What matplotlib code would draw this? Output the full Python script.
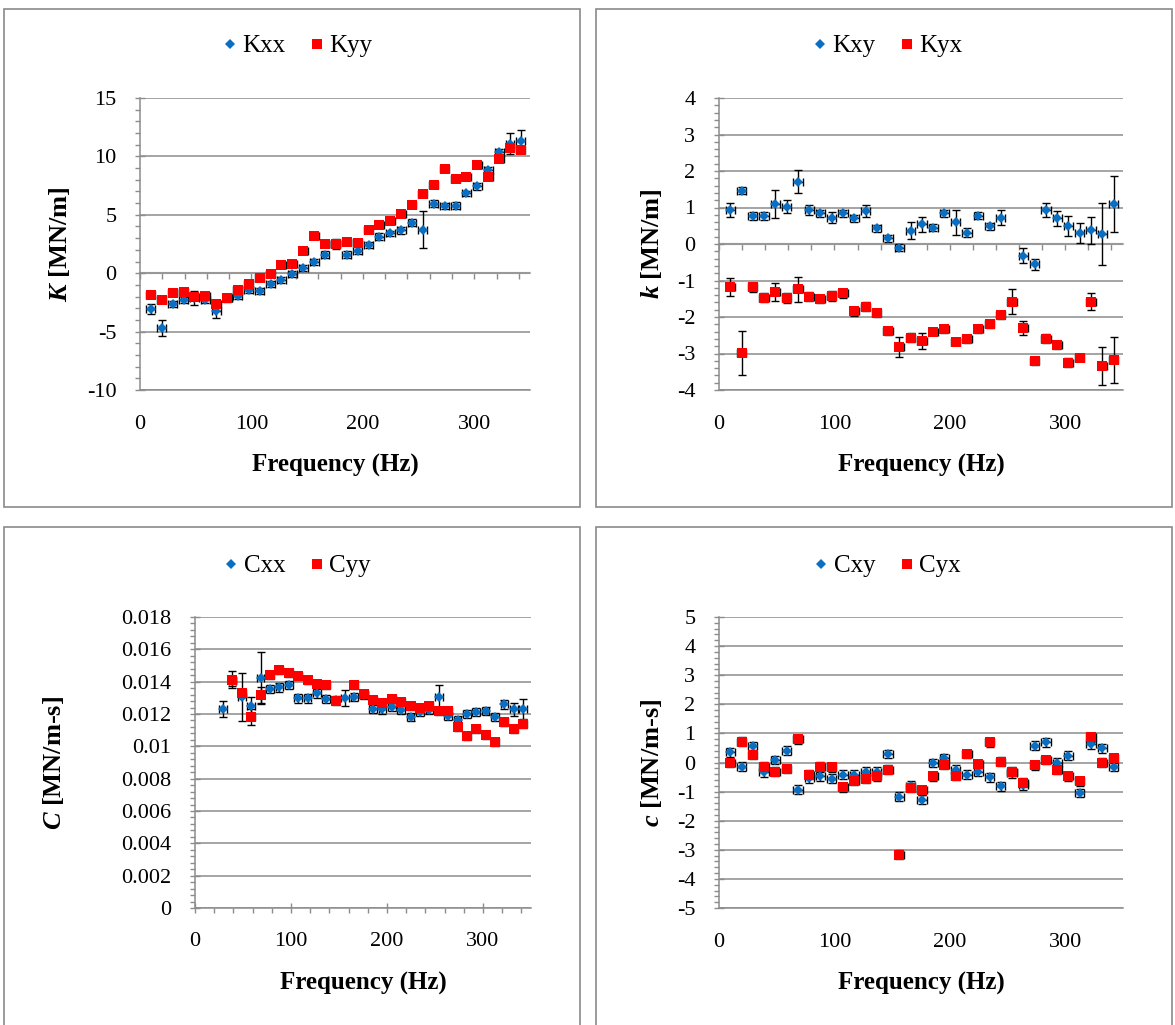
import matplotlib
matplotlib.use("Agg")
import matplotlib.pyplot as plt
from matplotlib.lines import Line2D
from matplotlib.patches import Rectangle
from matplotlib.ticker import MultipleLocator, FuncFormatter, NullFormatter

plt.rcParams["font.family"] = ["Liberation Serif", "DejaVu Serif"]
plt.rcParams["axes.unicode_minus"] = False
plt.rcParams["mathtext.fontset"] = "custom"
plt.rcParams["mathtext.rm"] = "Liberation Serif"
plt.rcParams["mathtext.it"] = "Liberation Serif:italic"
plt.rcParams["mathtext.bf"] = "Liberation Serif:bold"
plt.rcParams["mathtext.bfit"] = "Liberation Serif:italic:bold"

# Excitation frequencies (Hz)
freq = [9.77, 19.53, 29.30, 39.06, 48.83, 58.59, 68.36, 78.13, 87.89, 97.66,
        107.42, 117.19, 126.95, 136.72, 146.48, 156.25, 166.02, 175.78, 185.55, 195.31,
        205.08, 214.84, 224.61, 234.38, 244.14, 253.91, 263.67, 273.44, 283.20, 292.97,
        302.73, 312.50, 322.27, 332.03, 341.80]
nan = float("nan")

# Direct stiffness (MN/m)
kxx = [-3.06, -4.69, -2.63, -2.29, -2.10, -2.26, -3.26, -2.10, -1.95, -1.43,
       -1.49, -0.91, -0.57, -0.06, 0.46, 0.94, 1.57, 2.50, 1.60, 1.91,
       2.43, 3.14, 3.40, 3.66, 4.31, 3.74, 5.94, 5.77, 5.77, 6.83,
       7.46, 8.86, 10.37, 11.09, 11.29]
kxx_err = [0.45, 0.70, 0.25, 0.25, 0.60, 0.25, 0.55, 0.35, 0.30, 0.30,
           0.25, 0.25, 0.25, 0.25, 0.25, 0.25, 0.30, 0.45, 0.30, 0.30,
           0.25, 0.30, 0.25, 0.30, 0.30, 1.60, 0.30, 0.25, 0.30, 0.25,
           0.30, 0.25, 0.30, 0.90, 1.00]
kyy = [-1.86, -2.26, -1.69, -1.63, -2.06, -1.91, -2.63, -2.09, -1.43, -0.91,
       -0.43, -0.06, 0.71, 0.80, 1.89, 3.17, 2.51, 2.51, 2.71, 2.57,
       3.69, 4.14, 4.43, 5.11, 5.83, 6.77, 7.51, 8.94, 8.06, 8.26,
       9.26, 8.23, 9.74, 10.71, 10.57]
kyy_err = [0.25] * 35

# Cross-coupled stiffness (MN/m)
kxy = [0.93, 1.46, 0.77, 0.77, 1.09, 1.02, 1.71, 0.93, 0.84, 0.72,
       0.84, 0.70, 0.91, 0.43, 0.16, -0.10, 0.36, 0.54, 0.45, 0.84,
       0.59, 0.31, 0.78, 0.48, 0.72, nan, -0.32, -0.55, 0.93, 0.70,
       0.49, 0.31, 0.38, 0.27, 1.09]
kxy_err = [0.18, 0.10, 0.12, 0.10, 0.39, 0.18, 0.32, 0.14, 0.10, 0.15,
           0.10, 0.10, 0.16, 0.10, 0.10, 0.10, 0.23, 0.20, 0.10, 0.10,
           0.33, 0.12, 0.10, 0.10, 0.20, 0.10, 0.21, 0.15, 0.20, 0.20,
           0.27, 0.27, 0.37, 0.84, 0.76]
kyx = [-1.17, -2.98, -1.19, -1.47, -1.31, -1.49, -1.24, -1.44, -1.52, -1.42,
       -1.35, -1.84, -1.72, -1.90, -2.39, -2.82, -2.57, -2.65, -2.40, -2.34,
       -2.68, -2.61, -2.33, -2.20, -1.95, -1.58, -2.29, -3.21, -2.59, -2.77,
       -3.25, -3.11, -1.58, -3.34, -3.18]
kyx_err = [0.25, 0.60, 0.12, 0.13, 0.25, 0.14, 0.34, 0.12, 0.10, 0.13,
           0.12, 0.12, 0.12, 0.10, 0.10, 0.27, 0.12, 0.22, 0.10, 0.10,
           0.10, 0.10, 0.10, 0.10, 0.10, 0.35, 0.19, 0.10, 0.12, 0.12,
           0.12, 0.10, 0.24, 0.53, 0.64]

# Direct damping (MN/m-s)
cxx = [nan, nan, 0.01230, 0.01405, 0.01306, 0.01248, 0.01421, 0.01357, 0.01364, 0.01382,
       0.01296, 0.01296, 0.01327, 0.01294, 0.01285, 0.01300, 0.01306, 0.01320, 0.01230, 0.01228,
       0.01244, 0.01224, 0.01182, 0.01213, 0.01224, 0.01304, 0.01189, 0.01162, 0.01199, 0.01213,
       0.01219, 0.01182, 0.01259, 0.01228, 0.01232]
cxx_err = [0, 0, 0.0005, 0.0003, 0.0015, 0.0006, 0.0016, 0.00025, 0.00025, 0.00025,
           0.00025, 0.00025, 0.00025, 0.00025, 0.00025, 0.0005, 0.00025, 0.00025, 0.00025, 0.00025,
           0.00025, 0.00025, 0.00025, 0.00025, 0.00025, 0.00075, 0.00025, 0.00025, 0.00025, 0.00025,
           0.00025, 0.00025, 0.0003, 0.0004, 0.0006]
cyy = [nan, nan, nan, 0.01413, 0.01331, 0.01182, 0.01316, 0.01442, 0.01475, 0.01454,
       0.01434, 0.01413, 0.01388, 0.01378, 0.01279, nan, 0.01378, 0.01322, 0.01289, 0.01265,
       0.01291, 0.01275, 0.01248, 0.01238, 0.01248, 0.01217, 0.01219, 0.01121, 0.01065, 0.01106,
       0.01071, 0.01028, 0.01151, 0.01108, 0.01137]
cyy_err = [0, 0, 0, 0.00055, 0.00025, 0.0005, 0.0005, 0.00025, 0.00025, 0.00025,
           0.00025, 0.00025, 0.00025, 0.00025, 0.00025, 0, 0.00025, 0.00025, 0.00025, 0.00025,
           0.00025, 0.00025, 0.00025, 0.00025, 0.00025, 0.00025, 0.00025, 0.00025, 0.00025, 0.00025,
           0.00025, 0.00025, 0.00025, 0.00025, 0.00025]

# Cross-coupled damping (MN/m-s)
cxy = [0.35, -0.14, 0.57, -0.34, 0.09, 0.40, -0.94, -0.54, -0.48, -0.56,
       -0.42, -0.42, -0.32, -0.32, 0.29, -1.17, -0.80, -1.28, -0.02, 0.15,
       -0.25, -0.42, -0.33, -0.51, -0.82, -0.37, -0.79, 0.58, 0.69, 0.00,
       0.24, -1.05, 0.63, 0.49, -0.14]
cxy_err = [0.15] * 35
cyx = [0.00, 0.72, 0.26, -0.14, -0.31, -0.22, 0.80, -0.42, -0.14, -0.16,
       -0.85, -0.63, -0.56, -0.48, -0.25, -3.17, -0.86, -0.96, -0.48, -0.08,
       -0.46, 0.29, -0.05, 0.69, 0.03, -0.31, -0.69, -0.10, 0.09, -0.25,
       -0.48, -0.65, 0.86, 0.00, 0.15]
cyx_err = [0.15] * 35

freq_err = 4.0

BLUE = "#0a6fc2"
RED = "#ff0000"
GRID = "#8c8c8c"
AXIS0 = "#c3c3c3"

W, H = 1175, 1025
fig = plt.figure(figsize=(W / 100, H / 100), dpi=100)


def fx(px):
    return px / W


def fy(px):
    return 1 - px / H


# Panel frames
for (x0, y0, x1, y1) in [(4, 9, 580, 507), (596, 9, 1172, 507),
                         (4, 527, 580, 1035), (596, 527, 1172, 1035)]:
    fig.patches.append(Rectangle((fx(x0), fy(y1)), fx(x1) - fx(x0), fy(y0) - fy(y1),
                                 transform=fig.transFigure, fill=False,
                                 edgecolor="#8a8a8a", linewidth=1.2, zorder=0))


def panel(box, blue, blue_err, red, red_err, names, ylim, major, ylabel,
          fmt, axis_mode, ylab_x, legend_xy):
    x0, y0, x1, y1 = box
    ax = fig.add_axes([fx(x0), fy(y1), fx(x1) - fx(x0), fy(y0) - fy(y1)])
    ax.set_xlim(0, 350)
    ax.set_ylim(*ylim)
    ax.yaxis.set_major_locator(MultipleLocator(major))
    ax.yaxis.set_minor_locator(MultipleLocator(major / 5))
    ax.yaxis.set_major_formatter(FuncFormatter(fmt))
    ax.xaxis.set_major_locator(MultipleLocator(100))
    ax.xaxis.set_minor_locator(MultipleLocator(20))
    ax.grid(axis="y", which="major", color=GRID, linewidth=1.1, zorder=0)
    ax.set_axisbelow(True)
    for s in ("top", "right"):
        ax.spines[s].set_visible(False)
    ax.spines["left"].set_color(GRID)
    ax.spines["left"].set_linewidth(1.1)
    ax.spines["bottom"].set_color(GRID)
    ax.spines["bottom"].set_linewidth(1.1)
    ax.tick_params(axis="y", which="major", direction="inout", length=7, width=1,
                   color=GRID, labelsize=16, pad=13.5)
    ax.tick_params(axis="y", which="minor", direction="out", length=3.5, width=1,
                   color=GRID)

    if axis_mode == "zero":
        ax.tick_params(axis="x", which="both", length=0, labelsize=16, pad=18)
        sec = ax.secondary_xaxis(0, transform=ax.transData)
        sec.xaxis.set_major_locator(MultipleLocator(100))
        sec.xaxis.set_minor_locator(MultipleLocator(20))
        sec.xaxis.set_major_formatter(NullFormatter())
        sec.spines["bottom"].set_color(AXIS0)
        sec.spines["bottom"].set_linewidth(1.6)
        sec.tick_params(axis="x", which="both", direction="out", length=4,
                        width=1, color=GRID)
    elif axis_mode == "bottom":
        ax.tick_params(axis="x", which="major", direction="inout", length=7, width=1,
                       color=GRID, labelsize=16, pad=14)
        ax.tick_params(axis="x", which="minor", direction="out", length=3.5, width=1,
                       color=GRID)
    else:
        ax.tick_params(axis="x", which="both", length=0, labelsize=16, pad=18)

    ebkw = dict(fmt="none", ecolor="black", elinewidth=1.0, capsize=3.2,
                capthick=1.0, zorder=3)
    ax.errorbar(freq, blue, yerr=blue_err, xerr=freq_err, **ebkw)
    ax.plot(freq, blue, linestyle="none", marker="D", markersize=5.2,
            color=BLUE, markeredgewidth=0, zorder=4)
    ax.errorbar(freq, red, yerr=red_err, xerr=freq_err, **ebkw)
    ax.plot(freq, red, linestyle="none", marker="s", markersize=7,
            color=RED, markeredgewidth=0, zorder=4)

    ax.set_xlabel("Frequency (Hz)", fontsize=18, fontweight="bold")
    ax.xaxis.set_label_coords(0.5, -0.218)
    ax.set_ylabel(ylabel, fontsize=19, fontweight="bold")
    ax.yaxis.set_label_coords(ylab_x, 0.5)

    handles = [Line2D([], [], linestyle="none", marker="D", markersize=5.2,
                      color=BLUE, markeredgewidth=0),
               Line2D([], [], linestyle="none", marker="s", markersize=7,
                      color=RED, markeredgewidth=0)]
    fig.legend(handles, names, loc="center", bbox_to_anchor=legend_xy, ncol=2,
               frameon=False, fontsize=18, handlelength=0.5, handletextpad=0.25,
               columnspacing=1.0, borderpad=0)
    return ax


def int_fmt(v, pos):
    return f"{v:.0f}"


def small_fmt(v, pos):
    return f"{round(v, 4):g}"


panel((140, 98, 530, 390), kxx, kxx_err, kyy, kyy_err, ["Kxx", "Kyy"],
      (-10, 15), 5, r"$\mathbfit{K}$ [MN/m]", int_fmt, "zero", -0.175,
      (fx(298), fy(46)))
panel((719, 98, 1123, 390), kxy, kxy_err, kyx, kyx_err, ["Kxy", "Kyx"],
      (-4, 4), 1, r"$\mathbfit{k}$ [MN/m]", int_fmt, "zero", -0.135,
      (fx(888), fy(46)))
panel((195, 617, 531, 908), cxx, cxx_err, cyy, cyy_err, ["Cxx", "Cyy"],
      (0, 0.018), 0.002, r"$\mathbfit{C}$ [MN/m-s]", small_fmt, "bottom", -0.385,
      (fx(298), fy(566)))
panel((719, 617, 1123, 908), cxy, cxy_err, cyx, cyx_err, ["Cxy", "Cyx"],
      (-5, 5), 1, r"$\mathbfit{c}$ [MN/m-s]", int_fmt, "none", -0.135,
      (fx(888), fy(566)))

fig.savefig("out.png", dpi=100)
